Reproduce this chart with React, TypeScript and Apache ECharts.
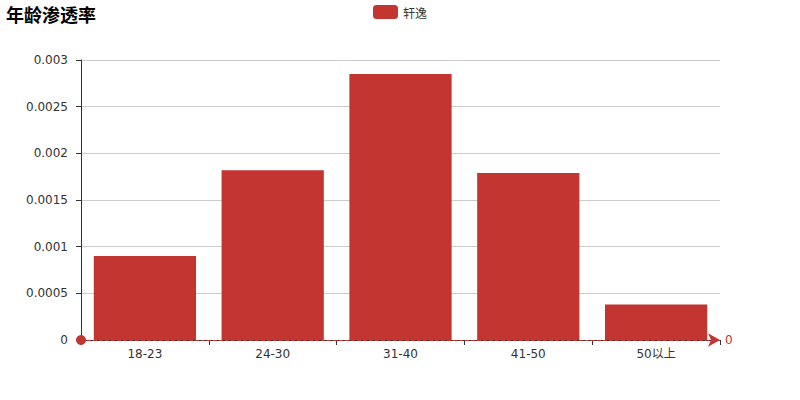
import React, { useEffect, useRef } from "react";
import * as echarts from "echarts";

const categories = ["18-23", "24-30", "31-40", "41-50", "50以上"];
const seriesName = "轩逸";
const values = [0.0009, 0.00182, 0.00285, 0.00179, 0.00038];
const markValue = 0;

export default function App() {
  const ref = useRef<HTMLDivElement>(null);
  useEffect(() => {
    if (!ref.current) return;
    const chart = echarts.init(ref.current, null, { renderer: "svg" });
    const font = "'DejaVu Sans', 'Noto Sans CJK SC', sans-serif";
    chart.setOption({
      animation: false,
      textStyle: { fontFamily: font },
      title: {
        text: "年龄渗透率",
        left: 1,
        top: 0,
        textStyle: { fontSize: 18, fontWeight: "bold", color: "#000", fontFamily: "'Noto Sans CJK SC', sans-serif" },
      },
      legend: {
        data: [seriesName],
        top: 0,
        left: "center",
        itemWidth: 25,
        itemHeight: 14,
        textStyle: { fontSize: 12, color: "#333", fontFamily: "'Noto Sans CJK SC', sans-serif" },
      },
      grid: { left: 81, right: 80, top: 60, bottom: 60 },
      xAxis: {
        type: "category",
        data: categories,
        axisLine: { lineStyle: { color: "#333" } },
        axisTick: { show: true, alignWithLabel: false },
        axisLabel: { color: "#333", fontSize: 12, margin: 8 },
      },
      yAxis: {
        type: "value",
        min: 0,
        max: 0.003,
        interval: 0.0005,
        axisLine: { show: true, lineStyle: { color: "#333" } },
        axisTick: { show: true },
        axisLabel: { color: "#333", fontSize: 12, margin: 13 },
        splitLine: { show: true, lineStyle: { color: "#ccc" } },
      },
      series: [
        {
          name: seriesName,
          type: "bar",
          data: values,
          barCategoryGap: "20%",
          itemStyle: { color: "#c23531" },
          markLine: {
            symbol: ["circle", "arrow"],
            symbolSize: [10, 12],
            data: [{ yAxis: markValue }],
            lineStyle: { color: "#c23531", type: "dashed", width: 1 },
            label: { show: true, position: "end", color: "#c23531", fontSize: 12 },
          },
        },
      ],
    });
    return () => chart.dispose();
  }, []);
  return <div ref={ref} style={{ position: "absolute", left: 0, top: 0, width: 800, height: 400 }} />;
}
